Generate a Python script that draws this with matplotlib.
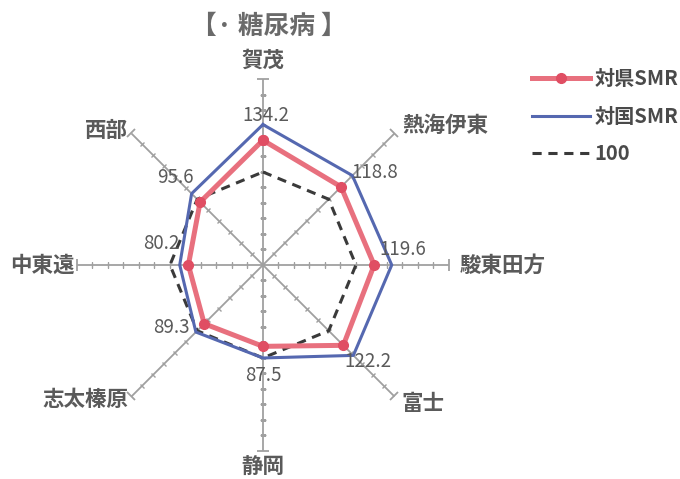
import numpy as np
import matplotlib
matplotlib.use("Agg")
import matplotlib.pyplot as plt
from matplotlib.markers import MarkerStyle
from matplotlib.transforms import Affine2D

plt.rcParams['font.family'] = ['Noto Sans CJK JP', 'DejaVu Sans']

title = "【· 糖尿病 】"
categories = ["賀茂", "熱海伊東", "駿東田方", "富士", "静岡", "志太榛原", "中東遠", "西部"]
ken_smr = [134.2, 118.8, 119.6, 122.2, 87.5, 89.3, 80.2, 95.6]     # 対県SMR
koku_smr = [151.0, 136.0, 138.5, 137.5, 100.0, 102.0, 89.5, 108.5]  # 対国SMR
base = [100] * 8
series_names = ["対県SMR", "対国SMR", "100"]
r_max = 200
n_ticks = 12

red = "#E8707E"
red_m = "#E04E63"
blue = "#5568B0"
dash_c = "#3a3a3a"
txt = "#5a5a5a"
axis_c = "#a0a0a0"

fig = plt.figure(figsize=(6.8, 4.79), dpi=100)
ax = fig.add_axes([0.1132, 0.0585, 0.547, 0.7766], projection='polar')
ax.set_theta_zero_location('N')
ax.set_theta_direction(-1)
ax.set_ylim(0, r_max)
ax.grid(False)
ax.set_xticks([])
ax.set_yticks([])
ax.spines['polar'].set_visible(False)
ax.patch.set_alpha(0)

n = len(categories)
theta = np.arange(n) * 2 * np.pi / n
theta_c = np.append(theta, theta[0])

# axes with ticks
tick_r = np.arange(1, n_ticks) * r_max / n_ticks
for th in theta:
    ax.plot([th, th], [0, r_max], color=axis_c, lw=1.3, zorder=1)
    m = MarkerStyle('_', transform=Affine2D().rotate_deg(-np.degrees(th)))
    ax.plot([th] * len(tick_r), tick_r, ls='none', marker=m, markersize=5,
            markeredgecolor=axis_c, markeredgewidth=1.0, zorder=1)
    ax.plot([th], [r_max], ls='none', marker=m, markersize=9,
            markeredgecolor=axis_c, markeredgewidth=1.3, zorder=1, clip_on=False)

def close(v):
    return list(v) + [v[0]]

l3, = ax.plot(theta_c, close(base), color=dash_c, lw=2.2, dashes=(3, 2.2), zorder=2, clip_on=False)
l2, = ax.plot(theta_c, close(koku_smr), color=blue, lw=2.2, zorder=3, clip_on=False)
l1, = ax.plot(theta_c, close(ken_smr), color=red, lw=3.6, marker='o', markersize=7,
              markerfacecolor=red_m, markeredgecolor=red_m, zorder=4, clip_on=False)

# category labels
label_pos = [
    (209, 'center', 'bottom'),
    (212, 'left', 'center'),
    (211, 'left', 'center'),
    (210, 'left', 'center'),
    (206, 'center', 'top'),
    (205, 'right', 'center'),
    (203, 'right', 'center'),
    (205, 'right', 'center'),
]
for th, cat, (r, ha, va) in zip(theta, categories, label_pos):
    ax.text(th, r, cat, ha=ha, va=va, fontsize=15.5, fontweight='bold', color=txt, clip_on=False)

# data labels
offsets = [(3, 9), (22, 3), (11, 15), (15, -6), (0, -18), (-25, 5), (-18, 21), (-16, 16)]
for th, v, kv, off in zip(theta, ken_smr, koku_smr, offsets):
    ax.annotate(f"{v:.1f}", xy=(th, kv), xytext=off, textcoords='offset pixels',
                ha='center', va='center', fontsize=13.5, color=txt,
                annotation_clip=False)

fig.text(0.395, 0.945, title, ha='center', va='center', fontsize=18.5, fontweight='bold', color="#6a6a6a")

leg = fig.legend([l1, l2, l3], series_names, loc='upper left', bbox_to_anchor=(0.782, 0.857),
                 frameon=False, fontsize=14.5, handlelength=2.9, labelspacing=0.8,
                 handletextpad=0.2, borderaxespad=0, borderpad=0)
for t in leg.get_texts():
    t.set_color("#4a4a4a")
    t.set_fontweight('bold')

fig.savefig("out.png", dpi=100)
